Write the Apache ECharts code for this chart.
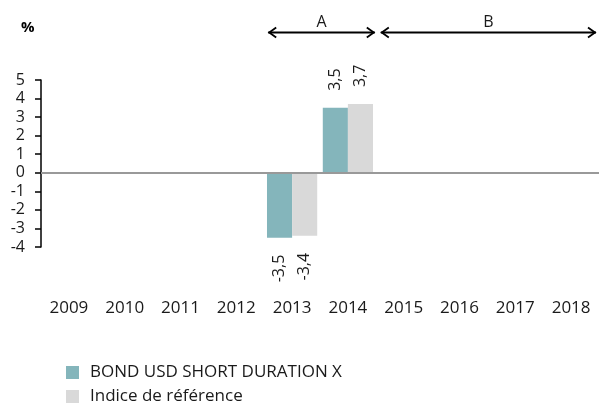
<!DOCTYPE html>
<html>
<head>
<meta charset="utf-8">
<script src="https://cdn.jsdelivr.net/npm/echarts@6/dist/echarts.min.js"></script>
<style>
html,body{margin:0;padding:0;background:#fff;}
#chart{width:599px;height:403px;}
</style>
</head>
<body>
<div id="chart"></div>
<script>
var categories = ['2009','2010','2011','2012','2013','2014','2015','2016','2017','2018'];
var fundName = 'BOND USD SHORT DURATION X';
var benchName = 'Indice de référence';
var fundValues = [null, null, null, null, -3.5, 3.5, null, null, null, null];
var benchValues = [null, null, null, null, -3.4, 3.7, null, null, null, null];
var yTicks = {min: -4, max: 5, interval: 1};
var periods = [
  {label: 'A', from: '2013', to: '2014'},
  {label: 'B', from: '2015', to: '2018'}
];

var FONT = 'Open Sans';
var TEXT = '#1a1a1a';

function fmt(v){ return String(v).replace('.', ','); }

function buildData(values){
  return values.map(function(v){
    if (v === null) return null;
    var neg = v < 0;
    return {
      value: v,
      label: {
        show: true,
        position: neg ? 'bottom' : 'top',
        rotate: 90,
        align: neg ? 'right' : 'left',
        verticalAlign: 'middle',
        distance: 17,
        formatter: function(p){ return fmt(p.value); },
        fontFamily: FONT, fontSize: 16, color: TEXT
      }
    };
  });
}

function legendFor(name, top){
  return {
    orient: 'vertical', left: 61, top: top,
    icon: 'rect', itemWidth: 13, itemHeight: 13,
    textStyle: {fontFamily: FONT, fontSize: 17, color: TEXT, padding: [0,0,0,6]},
    data: [name]
  };
}

var chart = echarts.init(document.getElementById('chart'), null, {renderer: 'canvas'});
var option = {
  animation: false,
  backgroundColor: '#fff',
  grid: {left: 41, top: 80, width: 560, bottom: 156, containLabel: false},
  legend: [legendFor(fundName, 359), legendFor(benchName, 383)],
  xAxis: {
    type: 'category', data: categories,
    axisLine: {show: false, onZero: false},
    axisTick: {show: false},
    axisLabel: {margin: 53, fontFamily: FONT, fontSize: 17, color: TEXT},
    splitLine: {show: false}
  },
  yAxis: {
    type: 'value', min: yTicks.min, max: yTicks.max, interval: yTicks.interval,
    axisLine: {show: true, lineStyle: {color: '#000', width: 1.5}},
    axisTick: {show: true, length: 6, lineStyle: {color: '#000', width: 1.5}},
    axisLabel: {margin: 16, fontFamily: FONT, fontSize: 16, color: TEXT},
    splitLine: {show: false}
  },
  series: [
    {
      name: fundName, type: 'bar', data: buildData(fundValues),
      itemStyle: {color: '#84B5BB'},
      barGap: '0%', barCategoryGap: '10%',
      markLine: {
        silent: true, symbol: ['none','none'],
        lineStyle: {color: '#999', width: 2, type: 'solid'},
        label: {show: false},
        data: [{yAxis: 0}]
      }
    },
    {
      name: benchName, type: 'bar', data: buildData(benchValues),
      itemStyle: {color: '#D9D9D9'},
      barGap: '0%', barCategoryGap: '10%'
    }
  ]
};
chart.setOption(option);

// Period annotations (A / B arrows) positioned from the category axis
var c0 = chart.convertToPixel({xAxisIndex: 0}, categories[0]);
var c1 = chart.convertToPixel({xAxisIndex: 0}, categories[1]);
var band = c1 - c0;
var arrowY = 32.5, labelY = 22;
var graphics = [{
  type: 'text', left: 21, top: 20,
  style: {text: '%', fontFamily: FONT, fontSize: 15, fontWeight: 'bold', fill: '#000'}
}];
periods.forEach(function(p, i){
  var x1 = chart.convertToPixel({xAxisIndex: 0}, p.from) - band/2 + (i === 0 ? 4 : 5);
  var x2 = chart.convertToPixel({xAxisIndex: 0}, p.to) + band/2 - (i === 0 ? 1 : 3);
  x2 = Math.min(x2, 597);
  var st = {stroke: '#000', lineWidth: 1.8, fill: null};
  graphics.push({type: 'line', shape: {x1: x1, y1: arrowY, x2: x2, y2: arrowY}, style: st, silent: true});
  graphics.push({type: 'polyline', shape: {points: [[x1+8, arrowY-5], [x1+1, arrowY], [x1+8, arrowY+5]]}, style: st, silent: true});
  graphics.push({type: 'polyline', shape: {points: [[x2-8, arrowY-5], [x2-1, arrowY], [x2-8, arrowY+5]]}, style: st, silent: true});
  graphics.push({
    type: 'text', x: (x1 + x2)/2, y: labelY,
    style: {text: p.label, fontFamily: FONT, fontSize: 16, fill: TEXT, align: 'center', verticalAlign: 'middle'},
    silent: true
  });
});
chart.setOption({graphic: graphics});
</script>
</body>
</html>
